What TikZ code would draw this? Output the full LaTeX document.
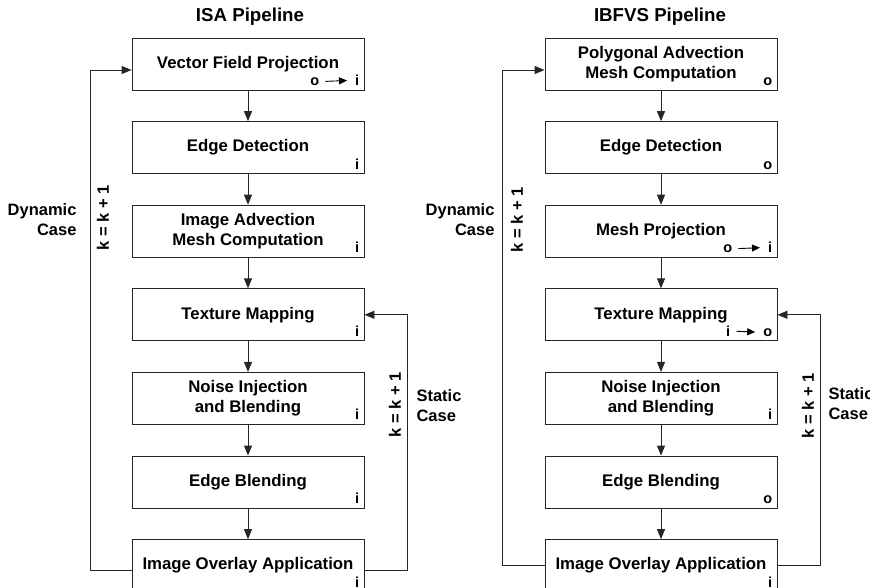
\documentclass[tikz,border=0pt]{standalone}
\usepackage{fontspec}
\setmainfont{Liberation Sans}
\usetikzlibrary{arrows.meta,positioning}

\tikzset{
  stage/.style={draw=black!85, line width=0.9pt, minimum width=232pt, minimum height=52pt,
    inner sep=0pt, align=center, font=\bfseries\fontsize{16.8}{19.5}\selectfont},
  tag/.style={inner sep=0pt, font=\bfseries\fontsize{14.5}{16}\selectfont},
  flow/.style={draw=black!85, line width=0.9pt, -{Triangle[length=10pt,width=8pt]}},
  swap/.style={line width=0.9pt, -{Triangle[length=8pt,width=7pt]}, shorten <=6pt, shorten >=8pt},
  head/.style={font=\bfseries\fontsize{18.7}{22}\selectfont},
  note/.style={font=\bfseries\fontsize{16.5}{20}\selectfont}
}

\begin{document}
\begin{tikzpicture}[x=1pt,y=-1pt,node distance=30.7pt]
\useasboundingbox (0,0) rectangle (870,588);

% ISA pipeline
\node[head] (isa) at (250,17) {ISA Pipeline};
\node[stage] (vfpA) at (248,64) {Vector Field Projection};
\node[stage, below=of vfpA] (edA) {Edge Detection};
\node[stage, below=of edA] (advA) {Image Advection\\Mesh Computation};
\node[stage, below=of advA] (texA) {Texture Mapping};
\node[stage, below=of texA] (noiA) {Noise Injection\\and Blending};
\node[stage, below=of noiA] (ebA) {Edge Blending};
\node[stage, below=of ebA] (ovA) {Image Overlay Application};
\foreach \a/\b in {vfpA/edA, edA/advA, advA/texA, texA/noiA, noiA/ebA, ebA/ovA}
  \draw[flow] (\a) -- (\b);

\node[tag, anchor=base east] (iA1) at ([xshift=-5pt,yshift=5pt]vfpA.south east) {i};
\node[tag, anchor=base east] (oA1) at ([xshift=-45pt,yshift=5pt]vfpA.south east) {o};
\draw[swap] (oA1.east) -- (iA1.west);
\foreach \n in {edA, advA, texA, noiA, ebA}
  \node[tag, anchor=base east] at ([xshift=-5pt,yshift=5pt]\n.south east) {i};
\node[tag, anchor=base east] (iA7) at ([xshift=-5pt,yshift=5pt]ovA.south east) {i};

\draw[flow] ([yshift=-5pt]ovA.west) -- ++(-41,0) |- ([yshift=-6pt]vfpA.west);
\draw[flow] ([yshift=-5pt]ovA.east) -- ++(43,0) |- (texA.east);
\node[note, rotate=90] (kA1) at (103,218) {k = k + 1};
\node[note, align=right, anchor=east] (dynA) at (80,220) {Dynamic\\Case};
\node[note, rotate=90] (kA2) at (395,405) {k = k + 1};
\node[note, align=left, anchor=west] (staA) at (413,406) {Static\\Case};

% IBFVS pipeline
\node[head] (ibfvs) at (660,17) {IBFVS Pipeline};
\node[stage] (pamB) at (661,64) {Polygonal Advection\\Mesh Computation};
\node[stage, below=of pamB] (edB) {Edge Detection};
\node[stage, below=of edB] (mpB) {Mesh Projection};
\node[stage, below=of mpB] (texB) {Texture Mapping};
\node[stage, below=of texB] (noiB) {Noise Injection\\and Blending};
\node[stage, below=of noiB] (ebB) {Edge Blending};
\node[stage, below=of ebB] (ovB) {Image Overlay Application};
\foreach \a/\b in {pamB/edB, edB/mpB, mpB/texB, texB/noiB, noiB/ebB, ebB/ovB}
  \draw[flow] (\a) -- (\b);

\node[tag, anchor=base east] at ([xshift=-5pt,yshift=5pt]pamB.south east) {o};
\node[tag, anchor=base east] at ([xshift=-5pt,yshift=5pt]edB.south east) {o};
\node[tag, anchor=base east] (iB3) at ([xshift=-5pt,yshift=5pt]mpB.south east) {i};
\node[tag, anchor=base east] (oB3) at ([xshift=-45pt,yshift=5pt]mpB.south east) {o};
\draw[swap] (oB3.east) -- (iB3.west);
\node[tag, anchor=base east] (oB4) at ([xshift=-5pt,yshift=5pt]texB.south east) {o};
\node[tag, anchor=base east] (iB4) at ([xshift=-47pt,yshift=5pt]texB.south east) {i};
\draw[swap] (iB4.east) -- (oB4.west);
\node[tag, anchor=base east] at ([xshift=-5pt,yshift=5pt]noiB.south east) {i};
\node[tag, anchor=base east] at ([xshift=-5pt,yshift=5pt]ebB.south east) {o};
\node[tag, anchor=base east] (iB7) at ([xshift=-5pt,yshift=5pt]ovB.south east) {i};

\draw[flow] (ovB.west) -- ++(-42,0) |- ([yshift=-6pt]pamB.west);
\draw[flow] (ovB.east) -- ++(43,0) |- (texB.east);
\node[note, rotate=90] (kB1) at (517,220) {k = k + 1};
\node[note, align=right, anchor=east] (dynB) at (498,220) {Dynamic\\Case};
\node[note, rotate=90] (kB2) at (808,406) {k = k + 1};
\node[note, align=left, anchor=west] (staB) at (825,404) {Static\\Case};
\end{tikzpicture}
\end{document}
